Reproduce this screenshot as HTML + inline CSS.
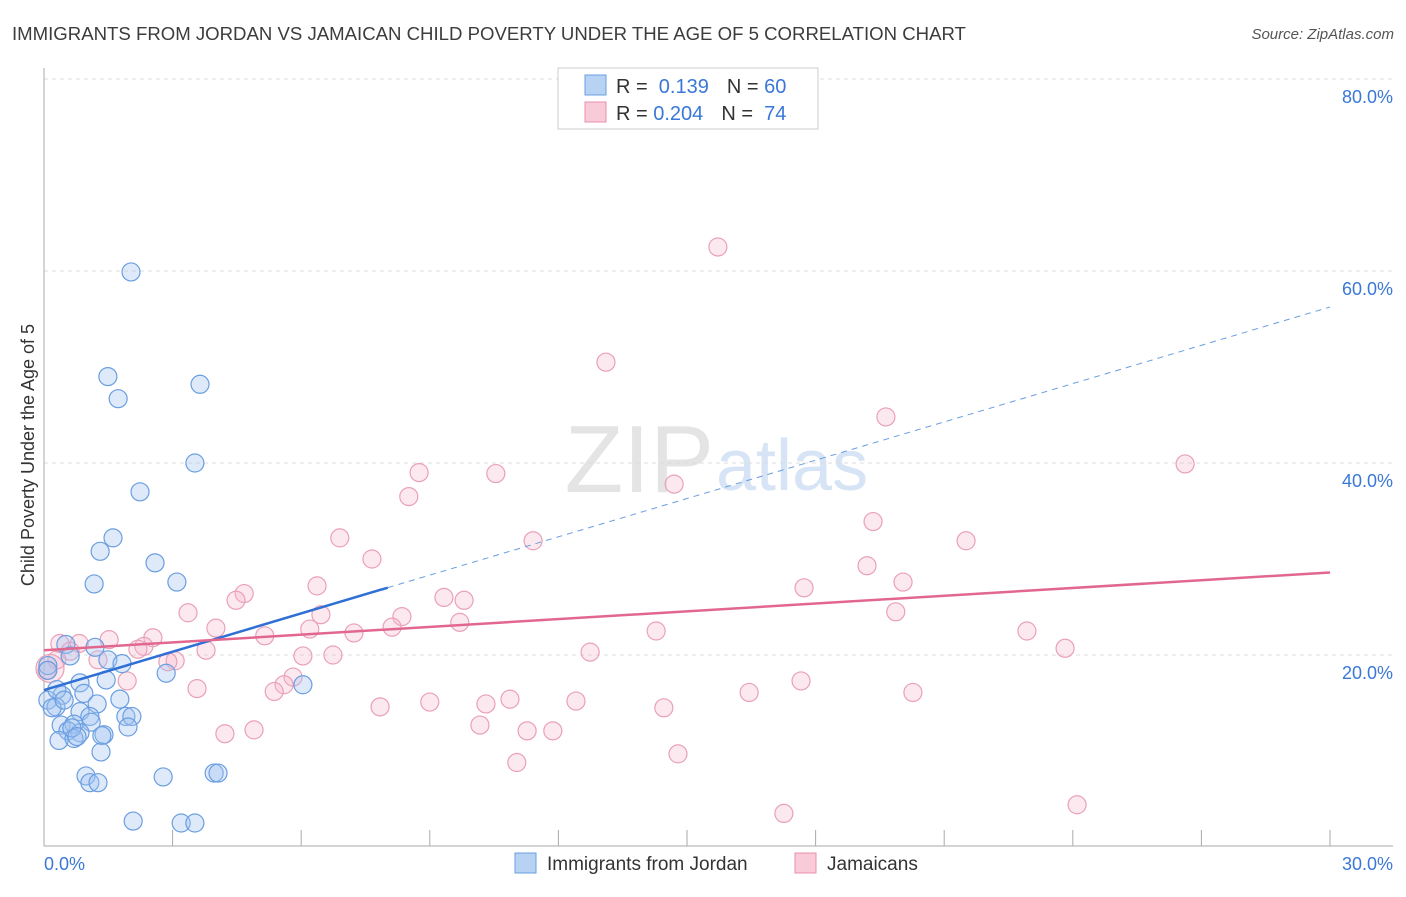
<!DOCTYPE html>
<html><head><meta charset="utf-8"><style>
body{margin:0;background:#fff;font-family:"Liberation Sans",sans-serif}
svg text{font-family:"Liberation Sans",sans-serif}
</style></head><body>
<svg width="1406" height="892" xmlns="http://www.w3.org/2000/svg">
<text x="12" y="40" font-size="18.6" fill="#3c3c3c">IMMIGRANTS FROM JORDAN VS JAMAICAN CHILD POVERTY UNDER THE AGE OF 5 CORRELATION CHART</text>
<text x="1394" y="39" font-size="15" fill="#555" font-style="italic" text-anchor="end">Source: ZipAtlas.com</text>
<text x="714" y="492" font-size="96" fill="#e4e4e4" text-anchor="end" font-family="Liberation Serif">ZIP</text>
<text x="716" y="490" font-size="72" fill="#d6e4f5">atlas</text>
<g id="grid"></g>
<g id="axes"></g>
<g id="pts"></g>
<g id="lines"></g>
<text transform="translate(34,455) rotate(-90)" font-size="18" fill="#333" text-anchor="middle">Child Poverty Under the Age of 5</text>
<g>
<rect x="558" y="68" width="260" height="61" fill="#fff" stroke="#ccc"/>
<rect x="585" y="75" width="21" height="20" fill="#b8d2f3" stroke="#6a9ee0"/>
<text x="616" y="93" font-size="20" fill="#333">R = <tspan fill="#3a78d6">&#160;0.139</tspan><tspan fill="#333" dx="18">N = </tspan><tspan fill="#3a78d6">60</tspan></text>
<rect x="585" y="102" width="21" height="20" fill="#f9cad8" stroke="#e890aa"/>
<text x="616" y="120" font-size="20" fill="#333">R = <tspan fill="#3a78d6">0.204</tspan><tspan fill="#333" dx="18">N = </tspan><tspan fill="#3a78d6">&#160;74</tspan></text>
</g>
<g>
<rect x="515" y="853" width="21" height="20" fill="#b8d2f3" stroke="#6a9ee0"/>
<text x="547" y="870" font-size="19" fill="#333">Immigrants from Jordan</text>
<rect x="795" y="853" width="21" height="20" fill="#f9cad8" stroke="#e890aa"/>
<text x="827" y="870" font-size="19" fill="#333">Jamaicans</text>
</g>
</svg>
<script>
const blueX=[2.03,1.49,1.73,3.64,3.52,2.24,1.61,1.31,2.59,3.10,1.17,0.51,1.19,0.61,1.49,1.82,0.09,2.85,0.84,1.45,6.04,0.42,0.93,0.09,0.28,1.24,1.77,0.19,0.84,1.07,1.91,2.05,0.40,0.70,1.10,0.56,0.84,1.40,1.96,0.35,0.70,1.35,1.33,0.98,1.07,1.26,2.78,3.97,4.06,2.08,3.20,3.52,0.09,0.30,0.65,0.77,0.47];
const blueY=[59.9,49.0,46.7,48.2,40.0,37.0,32.2,30.8,29.6,27.6,27.4,21.1,20.8,19.9,19.5,19.1,18.9,18.1,17.1,17.4,16.9,15.8,16.0,15.3,14.6,14.9,15.4,14.5,14.1,13.6,13.6,13.6,12.7,12.8,13.0,12.1,11.9,11.7,12.5,11.1,11.3,11.6,9.9,7.4,6.7,6.7,7.3,7.7,7.7,2.7,2.5,2.5,18.4,16.4,12.4,11.5,15.3];
const pinkX=[15.72,13.11,19.64,26.62,8.75,10.54,8.51,14.70,19.34,6.90,11.41,21.51,7.65,19.20,6.37,17.73,20.04,9.33,9.80,4.67,4.48,3.36,6.46,8.35,19.87,9.70,4.01,6.20,8.12,7.23,14.28,22.93,5.15,2.54,1.52,0.82,0.61,2.33,2.19,3.78,23.82,12.74,6.04,6.74,1.26,0.30,3.06,2.89,0.14,1.94,5.81,5.60,5.37,3.57,17.66,16.45,20.27,9.00,10.87,10.31,12.41,7.84,14.46,10.17,4.90,4.22,11.27,11.87,14.79,11.03,17.26,24.10,0.37,0.07];
const pinkY=[62.5,50.5,44.8,39.9,39.0,38.9,36.5,37.8,33.9,32.2,31.9,31.9,30.0,29.3,27.2,27.0,27.6,26.0,25.7,26.4,25.7,24.4,24.2,24.0,24.5,23.4,22.8,22.7,22.9,22.3,22.5,22.5,22.0,21.8,21.6,21.2,20.4,20.9,20.6,20.5,20.7,20.3,19.9,20.0,19.5,19.5,19.4,19.3,18.6,17.3,17.7,16.9,16.2,16.5,17.3,16.1,16.1,15.1,15.4,14.9,15.2,14.6,14.5,12.7,12.2,11.8,12.1,12.1,9.7,8.8,3.5,4.4,21.2,18.4];
const yTicks=[20,40,60,80];
const yTickLabels=["20.0%","40.0%","60.0%","80.0%"];
const blueFit=[16.35,1.33,8.02];
const pinkFit=[20.5,0.27];
const X=v=>44+v*(1286/30), Y=v=>847-v*9.6;
const NS="http://www.w3.org/2000/svg";
function mk(p,t,a){const e=document.createElementNS(NS,t);for(const k in a)e.setAttribute(k,a[k]);document.getElementById(p).appendChild(e);return e;}
yTicks.forEach((t,i)=>{
 const l=mk('grid','line',{x1:44,x2:1393,y1:Y(t),y2:Y(t),stroke:'#ddd','stroke-dasharray':'4,4'});
 
 
 const tx=mk('grid','text',{x:1393,y:Y(t)+24,'font-size':18,fill:'#3a78d6','text-anchor':'end'});
 tx.textContent=yTickLabels[i];
 
 
});
const ax=mk('axes','line',{x1:44,x2:44,y1:68,y2:846,stroke:'#aaa'});


const bx=mk('axes','line',{x1:44,x2:1393,y1:846,y2:846,stroke:'#aaa'});


for(let i=1;i<=10;i++){const t=mk('axes','line',{x1:X(i*3),x2:X(i*3),y1:830,y2:846,stroke:'#aaa'});
 
 }
[["0.0%",44,'start'],["30.0%",1393,'end']].forEach(a=>{const t=mk('axes','text',{x:a[1],y:870,'font-size':18,fill:'#3a78d6','text-anchor':a[2]});t.textContent=a[0];
 
 });
pinkX.forEach((v,i)=>{const c=mk('pts','circle',{cx:X(v),cy:Y(pinkY[i]),r:i==48?14:9,fill:'rgba(246,182,202,0.3)',stroke:'#eaa0b8','stroke-width':1.2});
 
 });
blueX.forEach((v,i)=>{const c=mk('pts','circle',{cx:X(v),cy:Y(blueY[i]),r:9,fill:'rgba(160,196,240,0.35)',stroke:'#6a9ee0','stroke-width':1.2});
 
 });
const bl=mk('lines','line',{x1:X(0),y1:Y(blueFit[0]),x2:X(blueFit[2]),y2:Y(blueFit[0]+blueFit[1]*blueFit[2]),stroke:'#2f6fd6','stroke-width':2.5});


const bd=mk('lines','line',{x1:X(blueFit[2]),y1:Y(blueFit[0]+blueFit[1]*blueFit[2]),x2:X(30),y2:Y(blueFit[0]+blueFit[1]*30),stroke:'#6a9ee0','stroke-width':1,'stroke-dasharray':'6,5'});


const pl=mk('lines','line',{x1:X(0),y1:Y(pinkFit[0]),x2:X(30),y2:Y(pinkFit[0]+pinkFit[1]*30),stroke:'#e2678f','stroke-width':2.5});


</script>
</body></html>
